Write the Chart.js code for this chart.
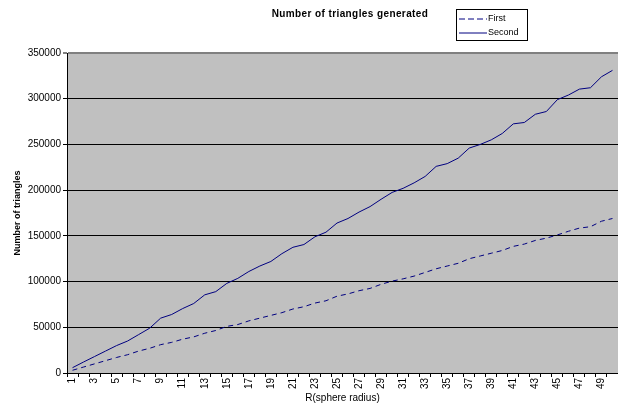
<!DOCTYPE html>
<html>
<head>
<meta charset="utf-8">
<script src="https://cdn.jsdelivr.net/npm/chart.js@4/dist/chart.umd.min.js"></script>
<style>
  body { margin: 0; background: #fff; font-family: "Liberation Sans", Arial, sans-serif; }
  #wrap { position: relative; width: 618px; height: 407px; }
  #title { position: absolute; left: 250px; width: 200px; top: 8px; text-align: center;
           font-size: 10px; font-weight: bold; letter-spacing: 0.4px; color: #000; }
  #legend { position: absolute; left: 456px; top: 9px; width: 70px; height: 30px;
            border: 1px solid #000; background: #fff; font-size: 9px; color: #000; }
  .item { position: absolute; left: 2px; height: 12px; line-height: 12px; }
  .item svg { vertical-align: middle; margin-right: 1px; }
</style>
</head>
<body>
<div id="wrap">
  <canvas id="chart" width="618" height="407"></canvas>
  <div id="title">Number of triangles generated</div>
  <div id="legend">
    <div class="item" style="top:2px"><svg width="28" height="4"><line x1="0" y1="2" x2="28" y2="2" stroke="#000080" stroke-width="1" stroke-dasharray="6,3"/></svg>First</div>
    <div class="item" style="top:16px"><svg width="28" height="4"><line x1="0" y1="2" x2="28" y2="2" stroke="#000080" stroke-width="1"/></svg>Second</div>
  </div>
</div>
<script>
// Categories (sphere radius)
const radius = [];
for (let i = 1; i <= 50; i++) radius.push(String(i));

// Series
const first = [3000, 6500, 10000, 13500, 17000, 20000, 24000, 27000, 31000, 33500,
  37000, 39500, 43500, 46500, 51000, 53000, 57000, 60000, 63000, 66000,
  70000, 72500, 76500, 79000, 84000, 86500, 90000, 92500, 97000, 100500,
  103000, 106000, 110000, 114000, 117000, 120000, 125000, 128000, 131000, 134000,
  138500, 141000, 145000, 147500, 151000, 155000, 158500, 160000, 166000, 169000];

const second = [5800, 12000, 18000, 24000, 30000, 35000, 42000, 49000, 60000, 64000,
  70500, 76000, 85500, 89000, 98000, 103500, 111000, 117000, 122000, 130500,
  137500, 140500, 149000, 154000, 164000, 169000, 176000, 182000, 190000, 197500,
  202000, 208000, 215000, 226000, 229000, 235000, 246000, 250000, 255000, 262000,
  272500, 274000, 283000, 286000, 299000, 304000, 310500, 312000, 324000, 331000];

const yMax = 350000;
const yStep = 50000;

const ctx = document.getElementById('chart').getContext('2d');
new Chart(ctx, {
    type: 'line',
    data: {
        labels: radius,
        datasets: [{
            label: 'First',
            data: first,
            borderColor: '#000080',
            borderWidth: 1,
            borderDash: [5, 4],
            pointRadius: 0,
            tension: 0,
            fill: false
        }, {
            label: 'Second',
            data: second,
            borderColor: '#000080',
            borderWidth: 1,
            pointRadius: 0,
            tension: 0,
            fill: false
        }]
    },
    options: {
        responsive: false,
        animation: false,
        layout: { padding: { top: 53, left: 0, right: 0, bottom: 0 } },
        plugins: {
            legend: { display: false },
            tooltip: { enabled: false }
        },
        scales: {
            x: {
                offset: true,
                afterFit: s => { s.height = 34; s.paddingLeft = 0; s.paddingRight = 0; },
                grid: { offset: true, drawOnChartArea: false, tickLength: 4, color: '#000' },
                border: { color: '#000', width: 1 },
                ticks: {
                    autoSkip: false,
                    minRotation: 90,
                    maxRotation: 90,
                    padding: 1,
                    color: '#000',
                    font: { family: 'Liberation Sans', size: 10 },
                    callback: (v, i) => (i % 2 === 0 ? radius[i] : '')
                },
                title: {
                    display: true,
                    text: 'R(sphere radius)',
                    color: '#000',
                    font: { family: 'Liberation Sans', size: 10 },
                    padding: { top: 0, bottom: 3 }
                }
            },
            y: {
                min: 0,
                max: yMax,
                afterFit: s => { s.width = 67; s.paddingTop = 0; s.paddingBottom = 0; },
                grid: {
                    tickLength: 4,
                    color: c => (c.tick && c.tick.value === yMax ? '#808080' : '#000'),
                    lineWidth: c => (c.tick && c.tick.value === yMax ? 2 : 1)
                },
                border: { color: '#000', width: 1 },
                ticks: {
                    stepSize: yStep,
                    padding: 2,
                    color: '#000',
                    font: { family: 'Liberation Sans', size: 10 },
                    callback: v => String(v)
                },
                title: {
                    display: true,
                    text: 'Number of triangles',
                    color: '#000',
                    font: { family: 'Liberation Sans', size: 9, weight: 'bold' },
                    padding: { top: 12, bottom: 0 }
                }
            }
        }
    },
    plugins: [{
        id: 'plotBg',
        beforeDraw(chart) {
            const a = chart.chartArea;
            chart.ctx.save();
            chart.ctx.fillStyle = '#c0c0c0';
            chart.ctx.fillRect(a.left, a.top, a.right - a.left, a.bottom - a.top);
            chart.ctx.restore();
        }
    }]
});
</script>
</body>
</html>
